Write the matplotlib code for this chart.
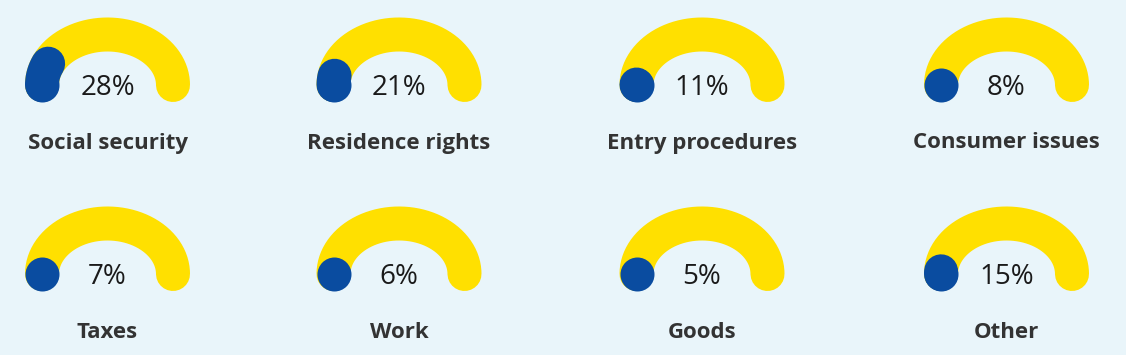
import numpy as np
import matplotlib
matplotlib.use("Agg")
import matplotlib.pyplot as plt

# ─── Data ───
labels = ["Social security", "Residence rights", "Entry procedures", "Consumer issues",
          "Taxes", "Work", "Goods", "Other"]
values = [28, 21, 11, 8, 7, 6, 5, 15]

BG = "#E9F5FA"
YELLOW = "#FFE000"
BLUE = "#0A4CA0"

W, H = 1126, 355
col_x = [107.5, 399, 702, 1006.5]
row_y = [85, 274]          # baseline (cap centres) of each gauge row
rx, ry = 65.5, 50.5        # half-width / height of the gauge centre line
stroke_px = 34


def sweep_deg(v):
    # blue arc extent as drawn in the source graphic (non-linear)
    return 0.0625 * max(v - 8, 0) ** 2


def arc(cx, cy, a0, a1, n=200):
    t = np.radians(np.linspace(a0, a1, n))
    return cx - rx * np.cos(t), cy - ry * np.sin(t)


fig = plt.figure(figsize=(W / 100, H / 100), dpi=100, facecolor=BG)
ax = fig.add_axes([0, 0, 1, 1])
ax.set_xlim(0, W)
ax.set_ylim(H, 0)
ax.axis("off")
ax.set_facecolor(BG)

lw = stroke_px * 72 / 100

for i, (lab, v) in enumerate(zip(labels, values)):
    cx = col_x[i % 4]
    cy = row_y[i // 4]

    x, y = arc(cx, cy, 0, 180)
    ax.plot(x, y, color=YELLOW, lw=lw, solid_capstyle="round", zorder=2)

    s = sweep_deg(v)
    bx, by = arc(cx, cy, 0, s, 50)
    ax.plot(bx[:1], by[:1], "o", color=BLUE, markersize=lw, markeredgewidth=0, zorder=3)
    if s > 0:
        ax.plot(bx, by, color=BLUE, lw=lw, solid_capstyle="round", zorder=3)

    ax.text(cx, cy + 3, f"{v}%", ha="center", va="center", fontsize=20,
            family="Open Sans", fontweight="normal", color="#1a1a1a", zorder=4)
    ax.text(cx, cy + 58, lab, ha="center", va="center", fontsize=16,
            family="Open Sans", fontweight="bold", color="#333333", zorder=4)

fig.savefig("out.png", dpi=100, facecolor=BG)
plt.close(fig)
